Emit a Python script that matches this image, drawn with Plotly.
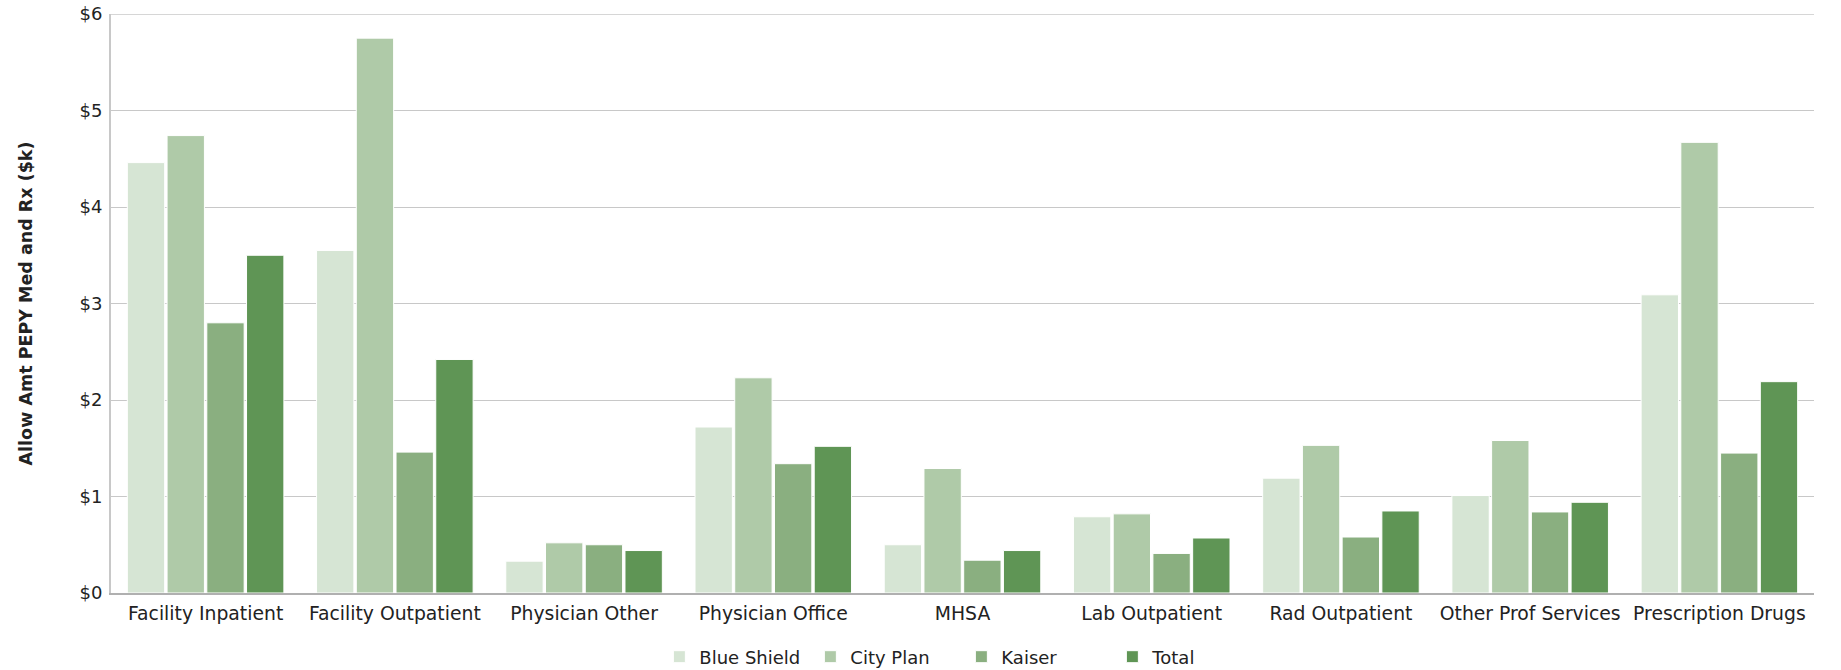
import plotly.graph_objects as go

categories = ["Facility Inpatient", "Facility Outpatient", "Physician Other", "Physician Office",
              "MHSA", "Lab Outpatient", "Rad Outpatient", "Other Prof Services", "Prescription Drugs"]
blue_shield = [4.46, 3.55, 0.33, 1.72, 0.50, 0.79, 1.19, 1.01, 3.09]
city_plan = [4.74, 5.75, 0.52, 2.23, 1.29, 0.82, 1.53, 1.58, 4.67]
kaiser = [2.80, 1.46, 0.50, 1.34, 0.34, 0.41, 0.58, 0.84, 1.45]
total = [3.50, 2.42, 0.44, 1.52, 0.44, 0.57, 0.85, 0.94, 2.19]

series = [("Blue Shield", blue_shield, "#d6e5d4"),
          ("City Plan", city_plan, "#afcaa8"),
          ("Kaiser", kaiser, "#8aaf80"),
          ("Total", total, "#5f9555")]

fig = go.Figure()
for name, vals, col in series:
    fig.add_trace(go.Bar(x=categories, y=vals, name=name,
                         marker=dict(color=col, line=dict(color="white", width=1))))

font = "DejaVu Sans, Verdana, sans-serif"
fig.update_layout(
    width=1841, height=670,
    margin=dict(l=111, r=27, t=14, b=77, autoexpand=False),
    paper_bgcolor="white", plot_bgcolor="white",
    barmode="group", bargap=0.16, bargroupgap=0.06,
    font=dict(family=font, size=18, color="#222222"),
    showlegend=True,
    legend=dict(orientation="h", x=0.322, xanchor="left", y=-0.1105, yanchor="middle",
                font=dict(size=18, family=font), entrywidth=106, entrywidthmode="pixels",
                itemclick=False),
    xaxis=dict(showline=True, linecolor="#b0b0b0", linewidth=2, ticks="",
               tickfont=dict(size=18.8), showgrid=False, automargin=False, ticklabelstandoff=2),
    yaxis=dict(range=[0, 6], dtick=1, tickprefix="$", showline=True, linecolor="#c8c8c8",
               linewidth=2, gridcolor="#c8c8c8", gridwidth=1, zeroline=False, automargin=False,
               ticks="", ticklabelstandoff=3, tickfont=dict(size=18),
               title=dict(text="<b>Allow Amt PEPY Med and Rx ($k)</b>", font=dict(size=17.5), standoff=42)),
)
fig.add_shape(type="line", xref="paper", yref="y", x0=0, x1=1, y0=6, y1=6,
              line=dict(color="#c8c8c8", width=1.5))

fig.write_html("out.html", config={"displayModeBar": False},
               post_script="document.body.style.margin='0px';")
